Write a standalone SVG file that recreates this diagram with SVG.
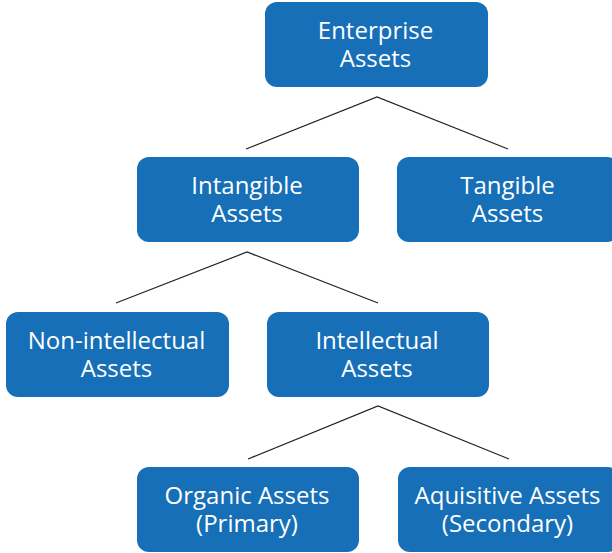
<svg xmlns="http://www.w3.org/2000/svg" width="612" height="553" viewBox="0 0 612 553">
  <style>
    .box { fill: #166fb7; }
    .lbl { fill: #ffffff; font-family: "Open Sans", "Noto Sans", sans-serif; font-size: 24px; text-anchor: middle; }
    .edge { stroke: #222222; stroke-width: 1.2; fill: none; }
  </style>
  <rect width="612" height="553" fill="#ffffff"/>
  <g id="connectors">
    <polyline class="edge" points="246,149 377,97 508,149"/>
    <polyline class="edge" points="116,303 247,252 378,303"/>
    <polyline class="edge" points="248,459 378,406 509,459"/>
  </g>
  <g id="enterprise">
    <rect class="box" x="265" y="2" width="223" height="85" rx="12"/>
    <text class="lbl" x="375.5" y="39">Enterprise</text>
    <text class="lbl" x="375.5" y="67">Assets</text>
  </g>
  <g id="intangible">
    <rect class="box" x="137" y="157" width="222" height="85" rx="12"/>
    <text class="lbl" x="247" y="194">Intangible</text>
    <text class="lbl" x="247" y="222">Assets</text>
  </g>
  <g id="tangible">
    <rect class="box" x="397" y="157" width="222" height="85" rx="12"/>
    <text class="lbl" x="507.5" y="194">Tangible</text>
    <text class="lbl" x="507.5" y="222">Assets</text>
  </g>
  <g id="non-intellectual">
    <rect class="box" x="6" y="312" width="223" height="85" rx="12"/>
    <text class="lbl" x="116.5" y="349">Non-intellectual</text>
    <text class="lbl" x="116.5" y="377">Assets</text>
  </g>
  <g id="intellectual">
    <rect class="box" x="267" y="312" width="222" height="85" rx="12"/>
    <text class="lbl" x="377" y="349">Intellectual</text>
    <text class="lbl" x="377" y="377">Assets</text>
  </g>
  <g id="organic">
    <rect class="box" x="137" y="467" width="222" height="85" rx="12"/>
    <text class="lbl" x="247" y="504">Organic Assets</text>
    <text class="lbl" x="247" y="532">(Primary)</text>
  </g>
  <g id="aquisitive">
    <rect class="box" x="398" y="467" width="222" height="85" rx="12"/>
    <text class="lbl" x="507.5" y="504">Aquisitive Assets</text>
    <text class="lbl" x="507.5" y="532">(Secondary)</text>
  </g>
</svg>
